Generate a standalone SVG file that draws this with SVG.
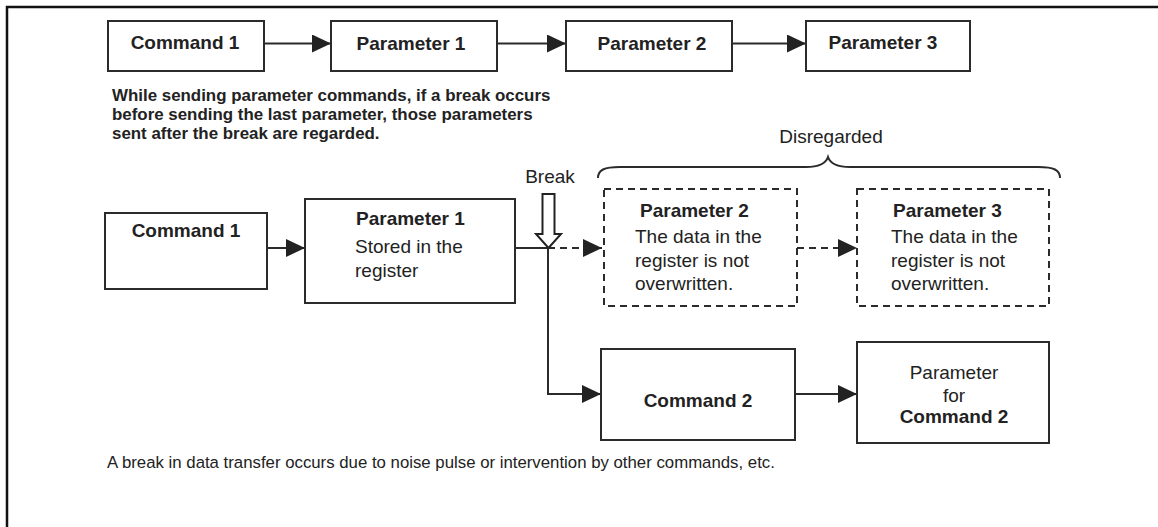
<svg xmlns="http://www.w3.org/2000/svg" width="1158" height="527" viewBox="0 0 1158 527">
<style>
.box{fill:#fff;stroke:#2b2b2b;stroke-width:2}
.dbox{fill:#fff;stroke:#2b2b2b;stroke-width:2;stroke-dasharray:7 5}
.ln{fill:none;stroke:#2b2b2b;stroke-width:2}
.dln{fill:none;stroke:#2b2b2b;stroke-width:2;stroke-dasharray:7 5}
.b{font-family:"Liberation Sans",Arial,sans-serif;font-weight:bold;font-size:19px;fill:#222}
.r{font-family:"Liberation Sans",Arial,sans-serif;font-size:19px;fill:#222}
.p{font-family:"Liberation Sans",Arial,sans-serif;font-weight:bold;font-size:16.9px;fill:#222}
.n{font-family:"Liberation Sans",Arial,sans-serif;font-size:16.8px;fill:#222}
.m{text-anchor:middle}
</style>
<defs>
<marker id="ah" markerUnits="userSpaceOnUse" markerWidth="19" markerHeight="18" refX="19" refY="9" orient="auto" viewBox="0 0 19 18">
<path d="M0,0 L19,9 L0,18 Z" fill="#222"/>
</marker>
</defs>
<rect width="1158" height="527" fill="#fff"/>
<rect x="7" y="7" width="1200" height="600" fill="none" stroke="#111" stroke-width="2.5"/>

<g id="connectors">
<line class="ln" x1="264" y1="43.5" x2="331" y2="43.5" marker-end="url(#ah)"/>
<line class="ln" x1="497" y1="43.5" x2="566" y2="43.5" marker-end="url(#ah)"/>
<line class="ln" x1="732" y1="43.5" x2="806" y2="43.5" marker-end="url(#ah)"/>
<line class="ln" x1="267" y1="248" x2="305" y2="248" marker-end="url(#ah)"/>
<line class="ln" x1="515" y1="248" x2="548" y2="248"/>
<line class="dln" x1="548" y1="248" x2="602" y2="248" marker-end="url(#ah)"/>
<line class="dln" x1="797" y1="248" x2="857" y2="248" marker-end="url(#ah)"/>
<polyline class="ln" points="548,248 548,394 601,394" marker-end="url(#ah)"/>
<line class="ln" x1="795" y1="394" x2="857" y2="394" marker-end="url(#ah)"/>
</g>

<g id="top-command1"><rect class="box" x="108" y="21" width="156" height="50"/><text class="b m" x="185" y="49">Command 1</text></g>
<g id="top-parameter1"><rect class="box" x="331" y="21" width="166" height="50"/><text class="b m" x="411" y="50">Parameter 1</text></g>
<g id="top-parameter2"><rect class="box" x="566" y="21" width="166" height="50"/><text class="b m" x="652" y="50">Parameter 2</text></g>
<g id="top-parameter3"><rect class="box" x="806" y="21" width="164" height="50"/><text class="b m" x="883" y="49">Parameter 3</text></g>

<g id="note-top">
<text class="p" x="112" y="101">While sending parameter commands, if a break occurs</text>
<text class="p" x="112" y="120">before sending the last parameter, those parameters</text>
<text class="p" x="112" y="139">sent after the break are regarded.</text>
</g>

<g id="disregarded">
<path class="ln" d="M598,178 C598,170 604,167 620,167 L806,167 C819,167 826,163 828,157 C830,163 837,167 850,167 L1038,167 C1054,167 1060,170 1060,178"/>
<text class="r m" x="831" y="143">Disregarded</text>
</g>

<g id="break">
<text class="r m" x="550" y="183">Break</text>
<path d="M542.5,194 H554.5 V234 H561 L548.5,248 L536,234 H542.5 Z" fill="#fff" stroke="#222" stroke-width="2" stroke-linejoin="miter"/>
</g>

<g id="command1"><rect class="box" x="105" y="213" width="162" height="76"/><text class="b m" x="186" y="237">Command 1</text></g>
<g id="parameter1"><rect class="box" x="305" y="199" width="210" height="104"/>
<text class="b" x="356" y="225">Parameter 1</text>
<text class="r" x="355" y="253">Stored in the</text>
<text class="r" x="355" y="277">register</text>
</g>
<g id="parameter2"><rect class="dbox" x="604" y="189" width="193" height="117"/>
<text class="b" x="640" y="217">Parameter 2</text>
<text class="r" x="635" y="243">The data in the</text>
<text class="r" x="635" y="267">register is not</text>
<text class="r" x="635" y="290">overwritten.</text>
</g>
<g id="parameter3"><rect class="dbox" x="857" y="189" width="192" height="117"/>
<text class="b" x="893" y="217">Parameter 3</text>
<text class="r" x="891" y="243">The data in the</text>
<text class="r" x="891" y="267">register is not</text>
<text class="r" x="891" y="290">overwritten.</text>
</g>
<g id="command2"><rect class="box" x="601" y="349" width="194" height="91"/><text class="b m" x="698" y="407">Command 2</text></g>
<g id="parameter-for-command2"><rect class="box" x="857" y="342" width="192" height="101"/>
<text class="r m" x="954" y="379">Parameter</text>
<text class="r m" x="954" y="402">for</text>
<text class="b m" x="954" y="423">Command 2</text>
</g>

<g id="note-bottom"><text class="n" x="107" y="468">A break in data transfer occurs due to noise pulse or intervention by other commands, etc.</text></g>
</svg>
